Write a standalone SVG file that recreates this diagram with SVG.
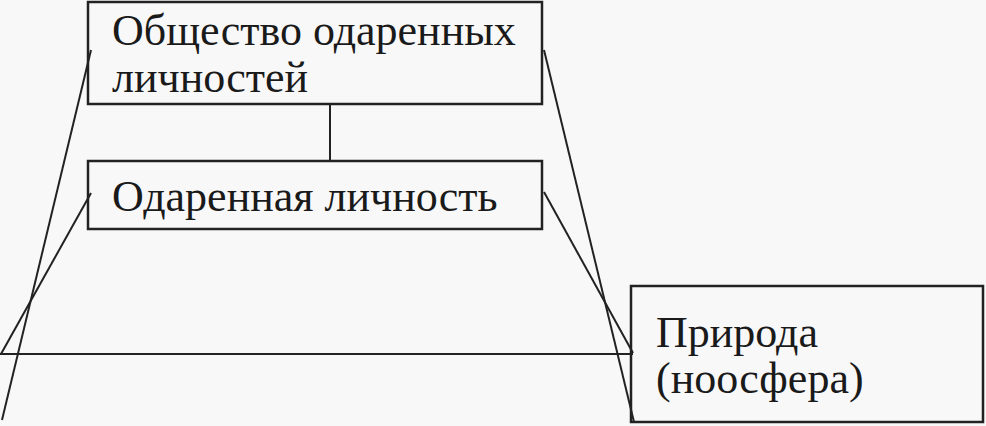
<svg xmlns="http://www.w3.org/2000/svg" width="986" height="426" viewBox="0 0 986 426">
<style>
.box{fill:none;stroke:#222;stroke-width:2.5}
.ln{stroke:#222;stroke-width:2;fill:none}
.t{font-family:"Liberation Serif","Times New Roman",serif;font-size:44px;fill:#1a1a1a}
</style>
<rect width="986" height="426" fill="#f8f8f8"/>
<g id="connectors">
<line class="ln" x1="330" y1="104" x2="330" y2="161"/>
<line class="ln" x1="91" y1="50" x2="2" y2="420"/>
<line class="ln" x1="91" y1="193" x2="1" y2="354"/>
<line class="ln" x1="0" y1="354" x2="633" y2="354"/>
<line class="ln" x1="544" y1="50" x2="634" y2="422"/>
<line class="ln" x1="544" y1="192" x2="633" y2="353"/>
</g>
<g id="node-society">
<rect class="box" x="88" y="2" width="454" height="102"/>
<text class="t" x="112" y="45">Общество одаренных</text>
<text class="t" x="112" y="92">личностей</text>
</g>
<g id="node-person">
<rect class="box" x="88" y="161" width="454" height="68"/>
<text class="t" x="112" y="211">Одаренная личность</text>
</g>
<g id="node-nature">
<rect class="box" x="631" y="286" width="352" height="136"/>
<text class="t" x="656" y="347">Природа</text>
<text class="t" x="656" y="393">(ноосфера)</text>
</g>
</svg>
